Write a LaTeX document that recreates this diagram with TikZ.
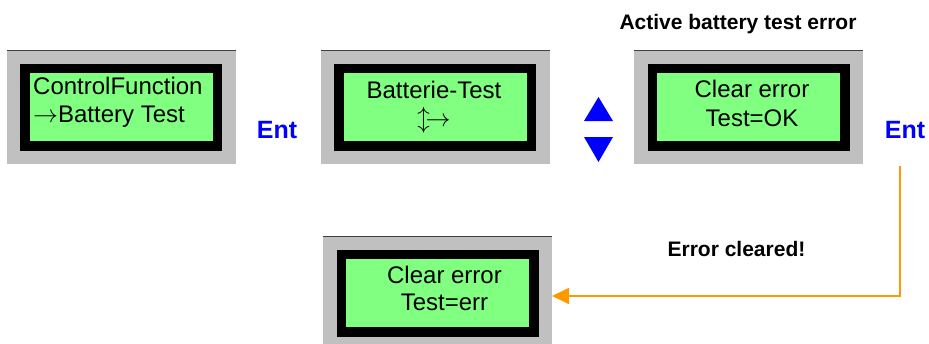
\documentclass[tikz,border=0pt]{standalone}
\usepackage{fontspec}
\setmainfont{Liberation Sans}
\usetikzlibrary{arrows.meta}
\definecolor{lcdgray}{HTML}{C0C0C0}
\definecolor{lcdgreen}{HTML}{80FF80}
\definecolor{entblue}{HTML}{0000FF}
\definecolor{arrorange}{HTML}{FF9900}
\tikzset{
  grayframe/.style={rectangle, fill=lcdgray, minimum width=229pt, minimum height=114pt, inner sep=0pt, outer sep=0pt},
  topline/.style={draw=black!75, line width=0.8pt},
  blackframe/.style={rectangle, fill=black, minimum width=202pt, minimum height=87pt, inner sep=0pt, outer sep=0pt},
  greenscreen/.style={rectangle, fill=lcdgreen, minimum width=183pt, minimum height=68pt, inner sep=0pt, outer sep=0pt},
  lcdtext/.style={inner sep=0pt, font=\fontsize{24}{28}\selectfont},
  entkey/.style={inner sep=0pt, text=entblue, font=\fontsize{25}{28}\selectfont\bfseries},
  caption/.style={inner sep=0pt, font=\fontsize{21}{24}\selectfont\bfseries},
  keytri/.style={fill=entblue, draw=none},
  flow/.style={draw=arrorange, line width=1.8pt, -{Triangle[length=17pt, width=16pt]}},
}
\newcommand{\lcdbox}[3]{%
  \node[grayframe] (#1) at (#2,#3) {};
  \draw[topline] (#1.north west) -- (#1.north east);
  \node[blackframe] (#1b) at (#1.center) {};
  \node[greenscreen] (#1g) at (#1.center) {};
}
\begin{document}
\begin{tikzpicture}[x=1pt, y=-1pt]
  \useasboundingbox (0,0) rectangle (929,343);
  % LCD displays
  \lcdbox{s1}{121}{107}
  \lcdbox{s2}{435}{107}
  \lcdbox{s3}{748.5}{107}
  \lcdbox{s4}{437.5}{293}
  % texts in displays (anchor base = baseline of the last line)
  \node[lcdtext, anchor=base west, align=left] (t1) at (33,122) {ControlFunction\\$\rightarrow$Battery Test};
  \node[lcdtext, anchor=base, align=center] (t2) at (434,126) {Batterie-Test\\$\updownarrow\!\rightarrow$};
  \node[lcdtext, anchor=base, align=center, font=\fontsize{24}{29}\selectfont] (t3) at (752,126) {Clear error\\Test=OK};
  \node[lcdtext, anchor=base, align=center, font=\fontsize{24}{26.5}\selectfont] (t4) at (444.5,310) {Clear error\\Test=err};
  % keys
  \node[entkey, anchor=base] (ent1) at (277,138) {Ent};
  \node[entkey, anchor=base] (ent2) at (905,138) {Ent};
  \fill[keytri] (584,121) -- (613,121) -- (598.5,97) -- cycle;
  \fill[keytri] (584,137) -- (613,137) -- (598.5,162) -- cycle;
  % captions
  \node[caption, anchor=base] (cap1) at (738,29) {Active battery test error};
  \node[caption, anchor=base] (cap2) at (736.5,256) {Error cleared!};
  % connector
  \coordinate (c1) at (900,166);
  \coordinate (c2) at (900,296);
  \draw[flow] (c1) -- (c2) -- (s4.east |- c2);
\end{tikzpicture}
\end{document}
